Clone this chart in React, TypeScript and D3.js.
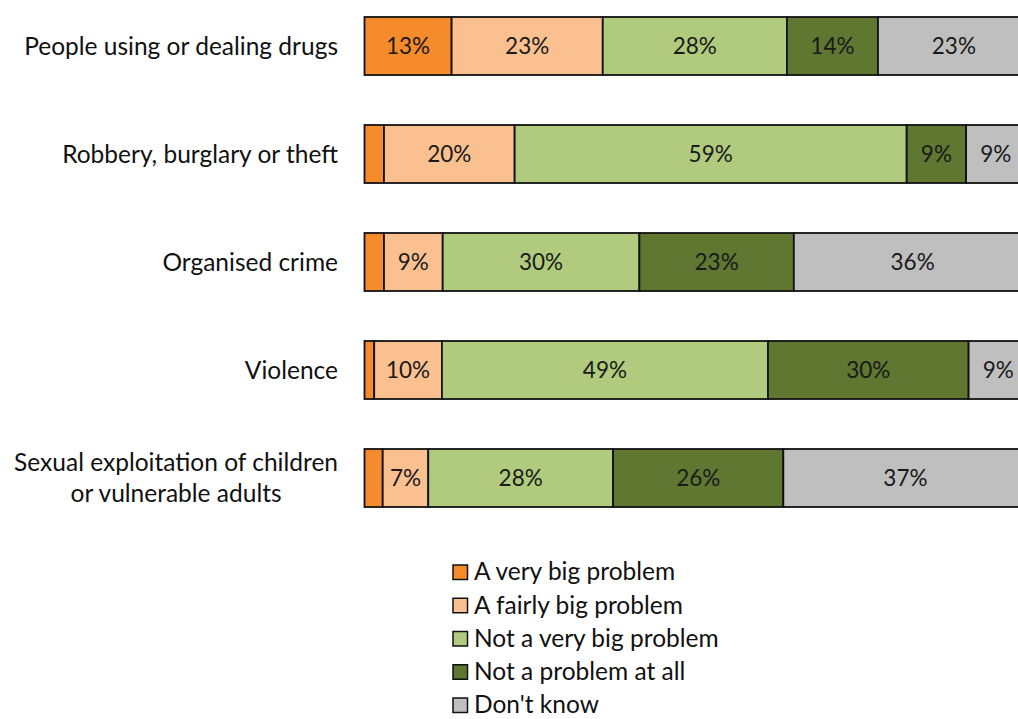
import React, { useEffect, useRef } from "react";
import * as d3 from "d3";

const categories = [
  "People using or dealing drugs",
  "Robbery, burglary or theft",
  "Organised crime",
  "Violence",
  "Sexual exploitation of children\nor vulnerable adults",
];
const seriesNames = [
  "A very big problem",
  "A fairly big problem",
  "Not a very big problem",
  "Not a problem at all",
  "Don't know",
];
const veryBig = [13.2, 2.95, 2.95, 1.47, 2.76];
const fairlyBig = [22.9, 19.8, 8.9, 10.26, 6.9];
const notVeryBig = [27.9, 59.4, 29.8, 49.4, 28];
const notAtAll = [13.8, 9, 23.4, 30.4, 25.8];
const dontKnow = [23, 9, 36, 9, 37];
const colors = ["#F68B2C", "#FAC090", "#B0CB7D", "#5F7731", "#BFBFBF"];

const FONT = "Lato, 'Open Sans', sans-serif";

export default function App() {
  const ref = useRef<SVGSVGElement>(null);
  useEffect(() => {
    const svg = d3.select(ref.current);
    svg.selectAll("*").remove();
    const series = [veryBig, fairlyBig, notVeryBig, notAtAll, dontKnow];
    const x = d3.scaleLinear().domain([0, 100]).range([364.5, 1024.5]);
    const y = d3
      .scaleBand<string>()
      .domain(categories)
      .range([-8, 532])
      .paddingInner(0.463)
      .paddingOuter(0.2315);

    const bars = svg.append("g");
    categories.forEach((c, i) => {
      let cum = 0;
      series.forEach((s, j) => {
        const v = s[i];
        const x0 = x(cum);
        const x1 = x(cum + v);
        cum += v;
        bars
          .append("rect")
          .attr("x", x0)
          .attr("y", y(c)!)
          .attr("width", x1 - x0)
          .attr("height", y.bandwidth())
          .attr("fill", colors[j])
          .attr("stroke", "#111")
          .attr("stroke-width", 1.8);
        if (v >= 5) {
          bars
            .append("text")
            .attr("x", (x0 + x1) / 2)
            .attr("y", y(c)! + y.bandwidth() / 2)
            .attr("dy", "0.36em")
            .attr("text-anchor", "middle")
            .attr("font-family", FONT)
            .attr("font-size", 22.5)
            .attr("fill", "#1a1a1a")
            .text(Math.round(v) + "%");
        }
      });
    });

    // category labels
    categories.forEach((c) => {
      const lines = c.split("\n");
      const g = svg.append("g");
      const cy = y(c)! + y.bandwidth() / 2;
      const lh = 31;
      const texts = lines.map((l, k) =>
        g
          .append("text")
          .attr("y", cy + (k - (lines.length - 1) / 2) * lh)
          .attr("dy", "0.36em")
          .attr("font-family", FONT)
          .attr("font-size", 24.5)
          .attr("fill", "#111")
          .text(l)
      );
      const widths = texts.map((t) => (t.node() as SVGTextElement).getComputedTextLength());
      const maxW = Math.max(...widths);
      const right = 338;
      texts.forEach((t) => {
        t.attr("x", right - maxW / 2).attr("text-anchor", "middle");
      });
      if (lines.length === 1) texts[0].attr("x", right).attr("text-anchor", "end");
    });

    // legend
    const ly = d3.scaleLinear().domain([0, 4]).range([572, 705]);
    seriesNames.forEach((n, j) => {
      svg
        .append("rect")
        .attr("x", 453)
        .attr("y", ly(j) - 7)
        .attr("width", 14.5)
        .attr("height", 14.5)
        .attr("fill", colors[j])
        .attr("stroke", "#111")
        .attr("stroke-width", 1.5);
      svg
        .append("text")
        .attr("x", 474)
        .attr("y", ly(j))
        .attr("dy", "0.34em")
        .attr("font-family", FONT)
        .attr("font-size", 24.5)
        .attr("fill", "#111")
        .text(n);
    });
  }, []);
  return (
    <svg
      ref={ref}
      width={1018}
      height={719}
      style={{ position: "absolute", left: 0, top: 0, background: "#fff" }}
    />
  );
}
